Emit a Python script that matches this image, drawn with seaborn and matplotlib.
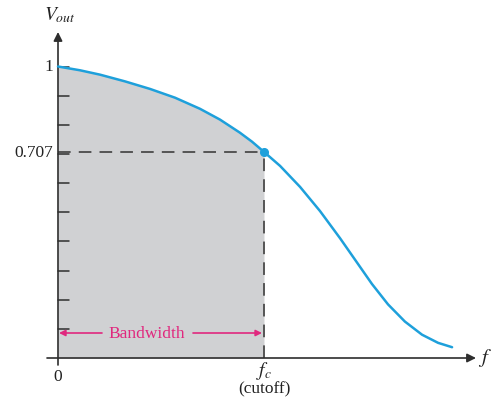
import numpy as np
import pandas as pd
import matplotlib
matplotlib.use("Agg")
import matplotlib.pyplot as plt
import seaborn as sns

# ---- data (frequency in units of f_c, output voltage normalised) ----
freq = [0.0, 0.107, 0.204, 0.325, 0.447, 0.568, 0.689, 0.786, 0.883, 0.942,
        1.0, 1.078, 1.175, 1.272, 1.369, 1.451, 1.524, 1.602, 1.684, 1.767,
        1.845, 1.913]
vout = [1.0, 0.987, 0.972, 0.949, 0.923, 0.893, 0.855, 0.818, 0.773, 0.742,
        0.707, 0.659, 0.587, 0.504, 0.411, 0.328, 0.254, 0.184, 0.125, 0.080,
        0.052, 0.037]
ytick_values = [0.1, 0.2, 0.3, 0.4, 0.5, 0.6, 0.7, 0.8, 0.9, 1.0]
y_labels = {1.0: "1", 0.707: "0.707"}
cutoff_f = 1.0
cutoff_v = 0.707
x_zero_label = "0"
fc_label = "$f_c$"
cutoff_text = "(cutoff)"
bw_text = "Bandwidth"

sns.set_style("white")
plt.rcParams["font.family"] = ["Liberation Serif", "DejaVu Serif"]
plt.rcParams["mathtext.fontset"] = "stix"

W, H = 497, 406
fig = plt.figure(figsize=(W / 100, H / 100), dpi=100)
ax = fig.add_axes([0, 0, 1, 1])

# pixel mapping: f=0 -> x=58, f=1 -> x=264 ; V=0 -> y=359, V=1 -> y=67.5
x0, sx = 58.0, 206.0
y0, sy = 359.0, 291.5
ax.set_xlim(-x0 / sx, (W - x0) / sx)
ax.set_ylim((y0 - H) / sy, y0 / sy)
ax.axis("off")

def px(v):
    return (v - x0) / sx

def py(v):
    return (y0 - v) / sy

df = pd.DataFrame({"f": freq, "v": vout})
fa = np.array(freq)
va = np.array(vout)
mask = fa <= cutoff_f + 1e-9

grey = "#d0d1d3"
curve_col = "#1ea0db"
axis_col = "#2e2e2e"
dash_col = "#4a4a4a"
mag = "#e0287e"

# shaded passband
ax.fill_between(fa[mask], 0, va[mask], color=grey, lw=0, zorder=1)

# dashed guide lines
ax.plot([0, cutoff_f], [cutoff_v, cutoff_v], color=dash_col, lw=1.3,
        dashes=(7, 4.5), zorder=2)
ax.plot([cutoff_f, cutoff_f], [0, cutoff_v], color=dash_col, lw=1.3,
        dashes=(7, 4.5), zorder=2)

# response curve
sns.lineplot(data=df, x="f", y="v", ax=ax, color=curve_col, lw=1.8,
             zorder=4, legend=False, sort=False, estimator=None,
             solid_joinstyle="round", solid_capstyle="round")
ax.plot([cutoff_f], [cutoff_v], "o", color=curve_col, ms=5.5, zorder=5)

# axes with arrows
ax.annotate("", xy=(0, py(33)), xytext=(0, py(366)),
            arrowprops=dict(arrowstyle="-|>", color=axis_col, lw=1.2,
                            mutation_scale=13, shrinkA=0, shrinkB=0),
            zorder=3)
ax.annotate("", xy=(px(476), 0), xytext=(px(47), 0),
            arrowprops=dict(arrowstyle="-|>", color=axis_col, lw=1.2,
                            mutation_scale=13, shrinkA=0, shrinkB=0),
            zorder=3)

# y ticks
for t in ytick_values:
    ax.plot([0, 11 / sx], [t, t], color=axis_col, lw=1.1, zorder=3)

# labels
fs = 12.5
for v, lab in y_labels.items():
    ax.text(px(53), v, lab, ha="right", va="center", fontsize=fs, color="#222222")
ax.text(0, py(377), x_zero_label, ha="center", va="center", fontsize=fs, color="#222222")
ax.text(px(60), py(15), "$V_{out}$", ha="center", va="center", fontsize=14, color="#222222")
ax.text(px(485), py(358), "$f$", ha="center", va="center", fontsize=15, color="#222222")
ax.text(cutoff_f, py(371), fc_label, ha="center", va="center", fontsize=14, color="#222222")
ax.text(cutoff_f, py(389), cutoff_text, ha="center", va="center", fontsize=fs, color="#222222")

# bandwidth arrows
yb = py(334)
ax.annotate("", xy=(0.005, yb), xytext=(px(102), yb),
            arrowprops=dict(arrowstyle="-|>", color=mag, lw=1.2,
                            mutation_scale=9, shrinkA=0, shrinkB=0), zorder=3)
ax.annotate("", xy=(px(262), yb), xytext=(px(193), yb),
            arrowprops=dict(arrowstyle="-|>", color=mag, lw=1.2,
                            mutation_scale=9, shrinkA=0, shrinkB=0), zorder=3)
ax.text(px(147), yb, bw_text, ha="center", va="center", fontsize=fs, color=mag)

fig.savefig("out.png", dpi=100)
